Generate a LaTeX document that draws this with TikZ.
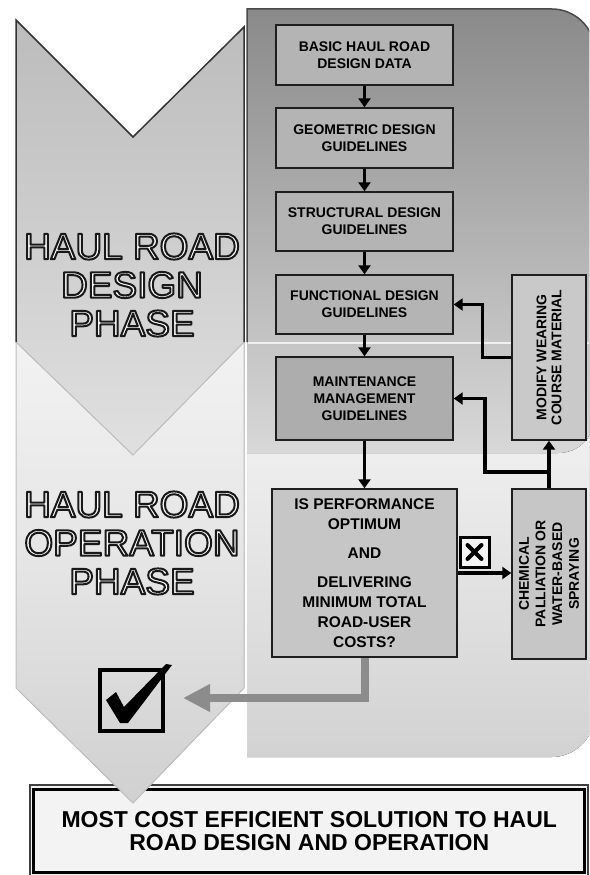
\documentclass[tikz,border=0pt]{standalone}
\usepackage{fontspec}
\setmainfont{Liberation Sans}
\usetikzlibrary{arrows.meta}
\definecolor{dpTop}{HTML}{8A8A8A}
\definecolor{dpBot}{HTML}{D8D8D8}
\definecolor{opTop}{HTML}{F8F8F8}
\definecolor{opBot}{HTML}{D2D2D2}
\definecolor{chDa}{HTML}{BCBCBC}
\definecolor{chDb}{HTML}{E0E0E0}
\definecolor{chOa}{HTML}{F2F2F2}
\definecolor{chOb}{HTML}{D0D0D0}
\definecolor{boxA}{HTML}{B4B4B4}
\definecolor{boxM}{HTML}{ADADAD}
\definecolor{boxD}{HTML}{C6C6C6}
\definecolor{boxS}{HTML}{C9C9C9}
\definecolor{edgeC}{HTML}{1E1E1E}
\definecolor{grayArr}{HTML}{8C8C8C}
\definecolor{lightEdge}{HTML}{BDBDBD}
\definecolor{botFill}{HTML}{F3F3F3}
\newcommand{\olt}[1]{\textcolor{white}{\special{pdf:literal direct 0.1 0.1 0.1 RG 2 w 1 j 2 Tr}#1\special{pdf:literal direct 0 Tr}}}
\tikzset{
  flowbox/.style={draw=edgeC, line width=1.4pt, fill=boxA, inner sep=0pt, align=center,
    font=\bfseries\fontsize{14}{16.7}\selectfont},
  sidebox/.style={flowbox, fill=boxS, rotate=90, font=\bfseries\fontsize{14}{15}\selectfont},
  arr/.style={line width=3.2pt, black, -{Triangle[length=9pt,width=12pt]}},
  grayarrow/.style={line width=8pt, grayArr, -{Triangle[length=27pt,width=26pt]}},
  phaselabel/.style={align=center, inner sep=0pt, font=\fontsize{37}{38.5}\selectfont},
}
\begin{document}
\begin{tikzpicture}[x=1pt,y=-1pt]
\useasboundingbox (0,0) rectangle (589,875);
\clip (0,0) rectangle (589,875);
\fill[white] (0,0) rectangle (589,875);

% operation panel
\fill[top color=opTop, bottom color=opBot]
  (247,342) -- (594,342) -- (594,717) .. controls (594,739) and (574,757) .. (552,757) -- (247,757) -- cycle;
% design panel
\fill[top color=dpTop, bottom color=dpBot]
  (247,453) -- (247,9) -- (552,9) .. controls (575,9) and (594,28) .. (594,48) -- (594,418)
  .. controls (594,438) and (578,453) .. (558,453) -- cycle;
\draw[edgeC!80, line width=1.5pt] (247,342) -- (247,9) -- (552,9) .. controls (575,9) and (594,28) .. (594,48);
\draw[white!88!gray, line width=1.5pt] (248,343) -- (594,343);

% bottom box
\draw[black!75, line width=1.3pt, fill=botFill] (30,785) rectangle (588,878);
\node[draw=black, line width=3pt, minimum width=551pt, minimum height=83pt, inner sep=0pt,
  align=center, font=\bfseries\fontsize{23}{23}\selectfont] (bot) at (309.25,831)
  {MOST COST EFFICIENT SOLUTION TO HAUL\\ROAD DESIGN AND OPERATION};

% operation chevron
\fill[top color=chOa, bottom color=chOb, middle color=chOa!60!chOb]
  (16,342) -- (133,455) -- (244,342) -- (244,688) -- (133,803) -- (16,688) -- cycle;
\draw[lightEdge, line width=1pt] (16,342) -- (16,688) -- (133,803) -- (244,688) -- (244,342);
% design chevron
\fill[top color=chDa, bottom color=chDb]
  (16,20) -- (133,137) -- (244,27) -- (244,342) -- (133,455) -- (16,342) -- cycle;
\draw[lightEdge, line width=1pt] (16,342) -- (133,455) -- (244,342);
\draw[black!80, line width=1.5pt] (16,342) -- (16,20) -- (133,137) -- (244,27) -- (244,342);

% phase labels
\node[phaselabel] (dlab) at (132,285) {\olt{HAUL ROAD}\\\olt{DESIGN}\\\olt{PHASE}};
\node[phaselabel] (olab) at (132,543) {\olt{HAUL ROAD}\\\olt{OPERATION}\\\olt{PHASE}};

% flow boxes
\node[flowbox, minimum width=177pt, minimum height=60pt] (b1) at (364.5,55) {BASIC HAUL ROAD\\DESIGN DATA};
\node[flowbox, minimum width=177pt, minimum height=60pt] (b2) at (364.5,138) {GEOMETRIC DESIGN\\GUIDELINES};
\node[flowbox, minimum width=177pt, minimum height=59pt] (b3) at (364.5,221.5) {STRUCTURAL DESIGN\\GUIDELINES};
\node[flowbox, minimum width=177pt, minimum height=59pt] (b4) at (364.5,304.5) {FUNCTIONAL DESIGN\\GUIDELINES};
\node[flowbox, fill=boxM, minimum width=177pt, minimum height=83pt] (b5) at (364.5,398.5) {MAINTENANCE\\MANAGEMENT\\GUIDELINES};
\node[flowbox, fill=boxD, minimum width=185pt, minimum height=168pt, font=\bfseries\fontsize{15.5}{20}\selectfont] (dec) at (364.5,573)
  {IS PERFORMANCE\\OPTIMUM\\[9pt]AND\\[9pt]DELIVERING\\MINIMUM TOTAL\\ROAD-USER\\COSTS?};
\node[sidebox, minimum width=165pt, minimum height=74pt] (mod) at (549,357.5) {MODIFY WEARING\\COURSE MATERIAL};
\node[sidebox, fill=boxD, minimum width=170pt, minimum height=74pt, font=\bfseries\fontsize{14}{16.7}\selectfont] (chem) at (549,574)
  {CHEMICAL\\PALLIATION OR\\WATER-BASED\\SPRAYING};

% main flow
\draw[arr] (b1.south) -- (b2.north);
\draw[arr] (b2.south) -- (b3.north);
\draw[arr] (b3.south) -- (b4.north);
\draw[arr] (b4.south) -- (b5.north);
\draw[arr] (b5.south) -- (dec.north);
\draw[arr] (dec.east) -- (chem.north |- dec.east);
% feedback loops
\coordinate (j) at (549,472);
\draw[arr] (mod.north) -- ++(-29,0) |- (b4.east);
\draw[line width=3.2pt, line join=miter] (chem.east) -- (j);
\draw[arr] (j) -- ++(-64,0) |- (b5.east);
\draw[arr] (j) -- (mod.west);

% reject icon
\node[draw=black, line width=3pt, fill=white!92!gray, minimum width=29pt, minimum height=30pt, inner sep=0pt] (xb) at (474.5,552) {};
\draw[line width=4pt, line cap=round] (467.5,545) -- (481.5,559);
\draw[line width=4pt, line cap=round] (481.5,545) -- (467.5,559);

% accept path
\coordinate (gtip) at (183,698);
\draw[grayarrow] (dec.south) |- (gtip);
\node[draw=black, line width=4.5pt, minimum width=63pt, minimum height=61pt, inner sep=0pt] (chk) at (131.5,700.5) {};
\fill[black] (106,700) -- (116,692) -- (124,707) -- (166,664) -- (172,665) -- (128,723) -- (120,723) -- cycle;
\end{tikzpicture}
\end{document}
